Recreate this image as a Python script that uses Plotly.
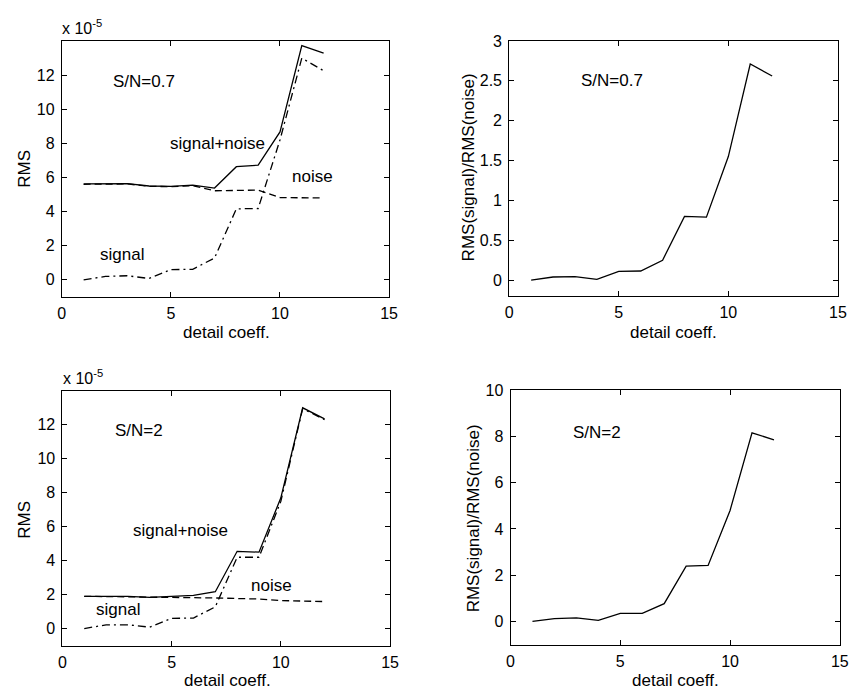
import plotly.graph_objects as go

# ---------------- data ----------------
detail = [1, 2, 3, 4, 5, 6, 7, 8, 9, 10, 11, 12]

# S/N = 0.7  (RMS values in units of 1e-5)
sn07_signal_noise = [5.62, 5.63, 5.64, 5.50, 5.48, 5.55, 5.38, 6.63, 6.72, 8.67, 13.72, 13.28]
sn07_noise = [5.60, 5.61, 5.62, 5.48, 5.46, 5.52, 5.22, 5.24, 5.26, 4.82, 4.80, 4.80]
sn07_signal = [0.00, 0.20, 0.24, 0.08, 0.60, 0.62, 1.28, 4.16, 4.18, 8.20, 12.99, 12.25]
sn07_ratio = [0.00, 0.04, 0.045, 0.01, 0.11, 0.115, 0.25, 0.80, 0.79, 1.55, 2.71, 2.56]

# S/N = 2  (RMS values in units of 1e-5)
sn2_signal_noise = [1.90, 1.90, 1.90, 1.84, 1.90, 1.95, 2.17, 4.55, 4.50, 7.70, 13.00, 12.35]
sn2_noise = [1.90, 1.89, 1.88, 1.83, 1.85, 1.84, 1.80, 1.77, 1.74, 1.65, 1.60, 1.59]
sn2_signal = [0.00, 0.22, 0.22, 0.08, 0.60, 0.62, 1.28, 4.20, 4.20, 7.50, 12.95, 12.30]
sn2_ratio = [0.00, 0.12, 0.15, 0.05, 0.35, 0.35, 0.77, 2.39, 2.42, 4.80, 8.16, 7.85]

x_ticks = [0, 5, 10, 15]
rms_ticks = [0, 2, 4, 6, 8, 10, 12]
ratio07_ticks = [0, 0.5, 1, 1.5, 2, 2.5, 3]
ratio2_ticks = [0, 2, 4, 6, 8, 10]

# ---------------- figure ----------------
W, H = 858, 692
FONT = "Liberation Sans, Arial, Helvetica, sans-serif"
BLACK = "#000000"
LW = 1.3
TICKSIZE = 16

fig = go.Figure()

def line(x, y, xa, ya, dash):
    fig.add_trace(go.Scatter(x=x, y=y, mode="lines", xaxis=xa, yaxis=ya,
                             line=dict(color=BLACK, width=LW, dash=dash),
                             showlegend=False, hoverinfo="skip"))

DASH = "7px,4px"
DASHDOT = "8px,4px,2px,4px"

line(detail, sn07_noise, "x", "y", DASH)
line(detail, sn07_signal, "x", "y", DASHDOT)
line(detail, sn07_signal_noise, "x", "y", "solid")
line(detail, sn07_ratio, "x2", "y2", "solid")
line(detail, sn2_noise, "x3", "y3", DASH)
line(detail, sn2_signal, "x3", "y3", DASHDOT)
line(detail, sn2_signal_noise, "x3", "y3", "solid")
line(detail, sn2_ratio, "x4", "y4", "solid")

def px_x(p):
    return p / W

def px_y(p):
    return 1 - p / H

def xax(domain, anchor):
    return dict(domain=domain, anchor=anchor, range=[0, 15], tickvals=x_ticks,
                ticks="inside", ticklen=5, tickcolor=BLACK, showline=True,
                linecolor=BLACK, linewidth=1, mirror="ticks", showgrid=False,
                zeroline=False, ticklabelstandoff=2,
                tickfont=dict(family=FONT, size=TICKSIZE, color=BLACK))

def yax(domain, anchor, rng, tv):
    return dict(domain=domain, anchor=anchor, range=rng, tickvals=tv,
                ticks="inside", ticklen=5, tickcolor=BLACK, showline=True,
                linecolor=BLACK, linewidth=1, mirror="ticks", showgrid=False,
                zeroline=False, ticklabelstandoff=3,
                tickfont=dict(family=FONT, size=TICKSIZE, color=BLACK))

tl_x = [px_x(58.7), px_x(391)]
tl_y = [px_y(292.3), px_y(33.3)]
tr_x = [px_x(513), px_x(846.7)]
tr_y = [px_y(291.5), px_y(33.3)]
bl_x = [px_x(59.3), px_x(392)]
bl_y = [px_y(645), px_y(387.3)]
br_x = [px_x(514.3), px_x(848.7)]
br_y = [px_y(644), px_y(386.7)]

fig.update_layout(
    width=W, height=H,
    margin=dict(l=0, r=0, t=0, b=0),
    paper_bgcolor="white", plot_bgcolor="white",
    font=dict(family=FONT, size=17, color=BLACK),
    hovermode=False,
    xaxis=xax(tl_x, "y"), yaxis=yax(tl_y, "x", [-1, 14], rms_ticks),
    xaxis2=xax(tr_x, "y2"), yaxis2=yax(tr_y, "x2", [-0.2, 3], ratio07_ticks),
    xaxis3=xax(bl_x, "y3"), yaxis3=yax(bl_y, "x3", [-1, 14], rms_ticks),
    xaxis4=xax(br_x, "y4"), yaxis4=yax(br_y, "x4", [-1, 10], ratio2_ticks),
)

ann = []

def data_text(text, x, y, xr, yr):
    ann.append(dict(text=text, x=x, y=y, xref=xr, yref=yr, xanchor="left",
                    yanchor="middle", showarrow=False,
                    font=dict(family=FONT, size=17, color=BLACK)))

data_text("S/N=0.7", 2.24, 11.6, "x", "y")
data_text("signal+noise", 4.87, 8.0, "x", "y")
data_text("noise", 10.44, 6.06, "x", "y")
data_text("signal", 1.67, 1.51, "x", "y")
data_text("S/N=0.7", 3.19, 2.5, "x2", "y2")
data_text("S/N=2", 2.32, 11.67, "x3", "y3")
data_text("signal+noise", 3.14, 5.8, "x3", "y3")
data_text("noise", 8.52, 2.55, "x3", "y3")
data_text("signal", 1.43, 1.1, "x3", "y3")
data_text("S/N=2", 2.77, 8.18, "x4", "y4")

def paper_text(text, px, py, angle=0, xanchor="center", size=17):
    ann.append(dict(text=text, x=px_x(px), y=px_y(py), xref="paper", yref="paper",
                    xanchor=xanchor, yanchor="middle", showarrow=False,
                    textangle=angle, font=dict(family=FONT, size=size, color=BLACK)))

paper_text("RMS", 20, 163, angle=-90)
paper_text("detail coeff.", 225.7, 328.3)
paper_text("RMS(signal)/RMS(noise)", 471.7, 161.7, angle=-90)
paper_text("detail coeff.", 680, 328.3)
paper_text("RMS", 20, 518, angle=-90)
paper_text("detail coeff.", 226.7, 680)
paper_text("RMS(signal)/RMS(noise)", 476.7, 515.8, angle=-90)
paper_text("detail coeff.", 681.7, 680)
paper_text("x 10<sup>-5</sup>", 56.5, 19, xanchor="left", size=16)
paper_text("x 10<sup>-5</sup>", 57.5, 373, xanchor="left", size=16)

fig.update_layout(annotations=ann)

# remove the default page margin so the figure sits at the window's origin
fig.write_html(
    "out.html",
    config={"displayModeBar": False, "staticPlot": True},
    post_script="document.body.style.margin='0';document.body.style.overflow='hidden';",
)
